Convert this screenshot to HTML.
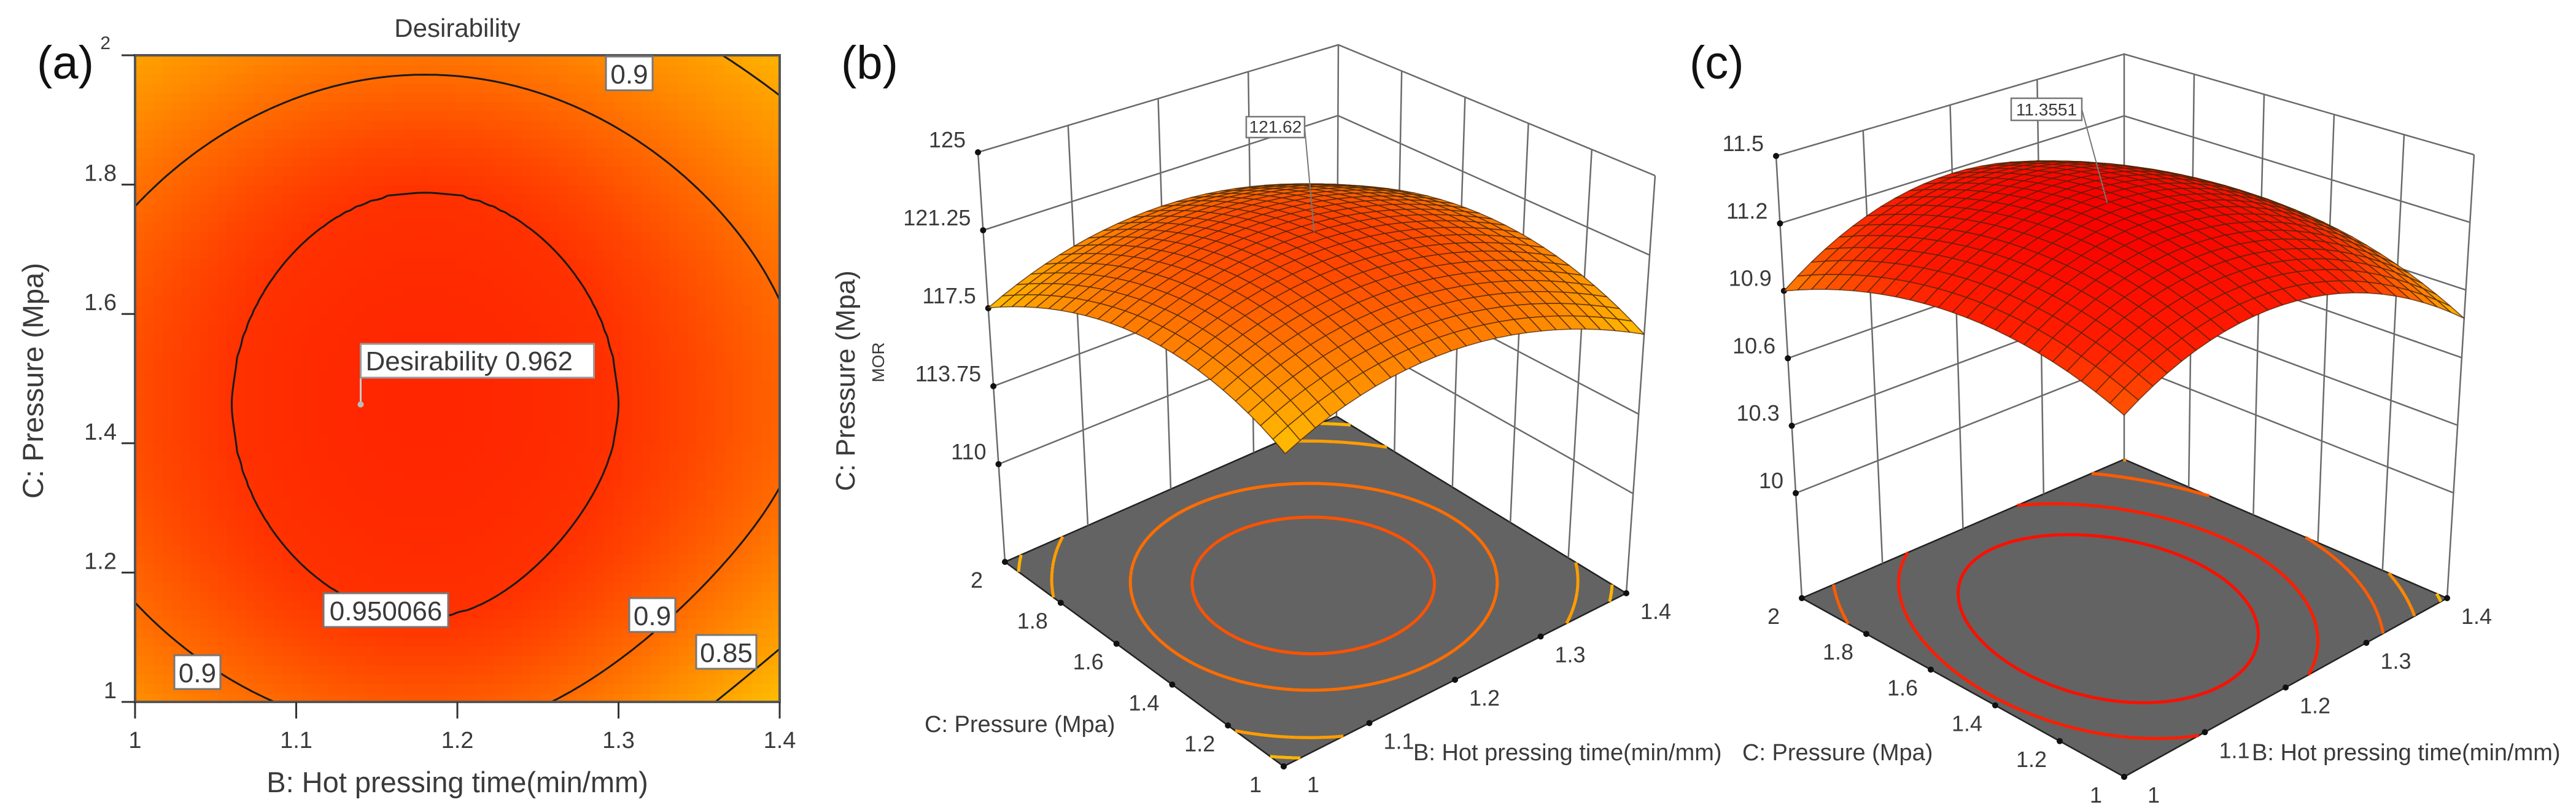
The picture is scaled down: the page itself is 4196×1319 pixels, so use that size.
<!DOCTYPE html>
<html><head><meta charset="utf-8"><title>Desirability and response surfaces</title>
<style>
html,body{margin:0;padding:0;background:#fff;}
svg{display:block;font-family:"Liberation Sans",Arial,sans-serif;}
.t{fill:#3a3a3a;}
</style></head>
<body>
<svg id="fig" width="4196" height="1319" viewBox="0 0 4196 1319" xmlns="http://www.w3.org/2000/svg">
  <rect x="0" y="0" width="4196" height="1319" fill="#fff"/>
  <g id="pa"></g>
  <g id="pb"></g>
  <g id="pc"></g>
</svg>
<script>
// ---------- data ----------
const aXTicks = [1, 1.1, 1.2, 1.3, 1.4];
const aYTicks = [1, 1.2, 1.4, 1.6, 1.8, 2];
const aContourLevels = [0.950066, 0.9, 0.85];
const aOptimum = [1.14, 1.46];
const aOptimumValue = [0.962];
const aCenter = [1.18, 1.46];
const aInnerAxes = [0.12, 0.33];
const aOuterAxes = [0.235, 0.51];
const aPeak = [0.962];
const aCorner = [1.0, 3.0];   // all-corner drop, extra bottom-right drop

const bTicksZ = [110, 113.75, 117.5, 121.25, 125];
const bTicksB = [1, 1.1, 1.2, 1.3, 1.4];
const bTicksC = [1, 1.2, 1.4, 1.6, 1.8, 2];
const bModel = [121.62, 8.2, 8.2, 0, 0.5, 0.5];
const bPeakLabel = ["121.62"];
const bContours = [121, 120.2, 118.7, 117.9];

const cTicksZ = [10, 10.3, 10.6, 10.9, 11.2, 11.5];
const cTicksB = [1, 1.1, 1.2, 1.3, 1.4];
const cTicksC = [1, 1.2, 1.4, 1.6, 1.8, 2];
const cModel = [11.3551, 1.14, 0.70, -0.222, 0.45, 0.5];
const cPeakLabel = ["11.3551"];
const cContours = [11.25, 11.15, 11.0, 10.9, 10.8];

// ---------- helpers ----------
const NS = "http://www.w3.org/2000/svg";
function mk(parent, tag, attrs, text) {
  const el = document.createElementNS(NS, tag);
  for (const k in attrs) el.setAttribute(k, attrs[k]);
  if (text !== undefined) el.textContent = text;
  parent.appendChild(el);
  return el;
}
function mix(c1, c2, t) { return c1.map((v, i) => Math.round(v + (c2[i] - v) * t)); }
function ramp(stops, t) {
  t = Math.max(0, Math.min(1, t));
  for (let i = 0; i < stops.length - 1; i++) {
    if (t <= stops[i + 1][0]) {
      const s = (t - stops[i][0]) / (stops[i + 1][0] - stops[i][0]);
      const c = mix(stops[i][1], stops[i + 1][1], s);
      return "rgb(" + c.join(",") + ")";
    }
  }
  const c = stops[stops.length - 1][1];
  return "rgb(" + c.join(",") + ")";
}
function contour(f, n, level) {
  const g = [];
  for (let i = 0; i <= n; i++) { g.push([]); for (let j = 0; j <= n; j++) g[i].push(f(i / n, j / n)); }
  const segs = [];
  for (let i = 0; i < n; i++) for (let j = 0; j < n; j++) {
    const c = [[i, j], [i + 1, j], [i + 1, j + 1], [i, j + 1]];
    const pts = [];
    for (let k = 0; k < 4; k++) {
      const a = c[k], b = c[(k + 1) % 4];
      const fa = g[a[0]][a[1]] - level, fb = g[b[0]][b[1]] - level;
      if ((fa < 0) !== (fb < 0)) {
        const t = fa / (fa - fb);
        pts.push([(a[0] + (b[0] - a[0]) * t) / n, (a[1] + (b[1] - a[1]) * t) / n]);
      }
    }
    if (pts.length === 2) segs.push([pts[0], pts[1]]);
    if (pts.length === 4) { segs.push([pts[0], pts[1]]); segs.push([pts[2], pts[3]]); }
  }
  return segs;
}

// ================= PANEL A =================
(function () {
  const g = document.getElementById("pa");
  const X0 = 220, X1 = 1270, Y0 = 1143, Y1 = 90;
  const xs = B => X0 + (B - 1) / 0.4 * (X1 - X0);
  const ys = C => Y0 - (C - 1) / 1 * (Y0 - Y1);
  const d1 = aPeak[0] - aContourLevels[0], d2 = aPeak[0] - aContourLevels[1];
  const axes = dl => {
    if (dl < d1) { const s = Math.sqrt(dl / d1); return [aInnerAxes[0] * s, aInnerAxes[1] * s]; }
    const t = (dl - d1) / (d2 - d1);
    return [aInnerAxes[0] + (aOuterAxes[0] - aInnerAxes[0]) * t, aInnerAxes[1] + (aOuterAxes[1] - aInnerAxes[1]) * t];
  };
  const D = (B, C) => {
    const dB = B - aCenter[0], dC = C - aCenter[1];
    let lo = 1e-6, hi = 0.6;
    for (let k = 0; k < 30; k++) {
      const m = (lo + hi) / 2, a = axes(m);
      const q = (dB / a[0]) ** 2 + (dC / a[1]) ** 2;
      if (q > 1) lo = m; else hi = m;
    }
    return aPeak[0] - (lo + hi) / 2
      - aCorner[0] * dB * dB * dC * dC
      - aCorner[1] * Math.max(0, dB) ** 2 * Math.max(0, -dC) ** 2;
  };
  const stops = [[0, [255, 214, 0]], [0.45, [255, 140, 0]], [0.8, [255, 70, 0]], [1, [255, 38, 0]]];
  const heat = mk(g, "g", {"shape-rendering": "crispEdges"});
  
  
  const N = 70;
  for (let i = 0; i < N; i++) for (let j = 0; j < N; j++) {
    const B = 1 + (i + 0.5) / N * 0.4, C = 1 + (j + 0.5) / N;
    const t = (D(B, C) - 0.80) / (0.962 - 0.80);
    const x = xs(1 + i / N * 0.4), y = ys(1 + (j + 1) / N);
    const r = mk(heat, "rect", {x: x.toFixed(1), y: y.toFixed(1), width: ((X1 - X0) / N + 1).toFixed(1), height: ((Y0 - Y1) / N + 1).toFixed(1), fill: ramp(stops, t)});
    
    
  }
  aContourLevels.forEach(lv => {
    const segs = contour((u, v) => D(1 + u * 0.4, 1 + v), 120, lv);
    let d = "";
    segs.forEach(s => { d += "M" + xs(1 + s[0][0] * 0.4).toFixed(1) + " " + ys(1 + s[0][1]).toFixed(1) + "L" + xs(1 + s[1][0] * 0.4).toFixed(1) + " " + ys(1 + s[1][1]).toFixed(1); });
    const p = mk(g, "path", {d: d, stroke: "#1a1a1a", "stroke-width": 3, fill: "none"});
    
    
  });
  const fr = mk(g, "rect", {x: X0, y: Y1, width: X1 - X0, height: Y0 - Y1, fill: "none", stroke: "#555", "stroke-width": 4});
  
  
  aXTicks.forEach(v => {
    const tk = mk(g, "line", {x1: xs(v), x2: xs(v), y1: Y0, y2: Y0 + 27, stroke: "#333", "stroke-width": 3});
    
    
    const tl = mk(g, "text", {x: xs(v), y: Y0 + 75, "text-anchor": "middle", "font-size": 38, class: "t"}, String(v));
    
    
  });
  aYTicks.forEach(v => {
    const tk = mk(g, "line", {x1: X0 - 22, x2: X0, y1: ys(v), y2: ys(v), stroke: "#333", "stroke-width": 3});
    
    
    const yy = v === 2 ? ys(v) - 10 : ys(v) - 6;
    const tl = mk(g, "text", {x: v === 2 ? 180 : 190, y: yy, "text-anchor": "end", "font-size": v === 2 ? 30 : 38, class: "t"}, String(v));
    
    
  });
  const ox = xs(aOptimum[0]), oy = ys(aOptimum[1]);
  const ln = mk(g, "line", {x1: ox, x2: ox, y1: 612, y2: oy, stroke: "#ccc", "stroke-width": 3});
  
  
  const dt = mk(g, "circle", {cx: ox, cy: oy, r: 5, fill: "#bbb"});
  
  
  const bx = mk(g, "rect", {x: ox, y: 560, width: 380, height: 55, fill: "#fff", stroke: "#999", "stroke-width": 3});
  
  
  const bt = mk(g, "text", {x: ox + 8, y: 603, "font-size": 44, class: "t"}, "Desirability  " + aOptimumValue[0]);
  
  
  const labs = [["0.950066", 527, 966, 203], ["0.9", 987, 92, 76], ["0.9", 1025, 974, 75], ["0.85", 1134, 1034, 98], ["0.9", 284, 1067, 75]];
  labs.forEach(L => {
    const r = mk(g, "rect", {x: L[1], y: L[2], width: L[3], height: 55, fill: "#fff", stroke: "#777", "stroke-width": 3});
    
    
    const t = mk(g, "text", {x: L[1] + L[3] / 2, y: L[2] + 44, "text-anchor": "middle", "font-size": 44, class: "t"}, L[0]);
    
    
  });
  const ti = mk(g, "text", {x: 745, y: 60, "text-anchor": "middle", "font-size": 42, class: "t"}, "Desirability");
  
  
  const xt = mk(g, "text", {x: 745, y: 1290, "text-anchor": "middle", "font-size": 47, class: "t"}, "B: Hot pressing time(min/mm)");
  
  
  const yt = mk(g, "text", {x: 0, y: 0, "text-anchor": "middle", "font-size": 47, class: "t", transform: "translate(70,620) rotate(-90)"}, "C: Pressure (Mpa)");
  
  
  const pl = mk(g, "text", {x: 60, y: 128, "font-size": 76, fill: "#111"}, "(a)");
  
  
})();

// ================= 3D PANELS =================
function bil(c, u, v) {
  return [0, 1].map(k => c.F[k] * (1 - u) * (1 - v) + c.R[k] * u * (1 - v) + c.L[k] * (1 - u) * v + c.K[k] * u * v);
}
function draw3d(gid, box, zTicks, bTicks, cTicks, model, contours, peakLabel, stops, trange, labelBox, panelLabel, extra) {
  const g = document.getElementById(gid);
  const zf = box.zf, zt = box.zt;
  const P = (u, v, z) => {
    const w = (z - zf) / (zt - zf);
    const a = bil(box.bot, u, v), b = bil(box.top, u, v);
    return [a[0] * (1 - w) + b[0] * w, a[1] * (1 - w) + b[1] * w];
  };
  const f = (u, v) => {
    const du = u - model[4], dv = v - model[5];
    return model[0] - model[1] * du * du - model[2] * dv * dv - model[3] * du * dv;
  };
  const pt = p => p[0].toFixed(1) + " " + p[1].toFixed(1);
  const wallStroke = {stroke: "#6a6a6a", "stroke-width": 2.5, fill: "none"};
  const fl = mk(g, "path", {d: "M" + pt(P(0, 0, zf)) + "L" + pt(P(1, 0, zf)) + "L" + pt(P(1, 1, zf)) + "L" + pt(P(0, 1, zf)) + "Z", fill: "#636363", stroke: "#222", "stroke-width": 2.5});
  
  
  contours.forEach(lv => {
    const segs = contour(f, 90, lv);
    let d = "";
    segs.forEach(s => { d += "M" + pt(P(s[0][0], s[0][1], zf)) + "L" + pt(P(s[1][0], s[1][1], zf)); });
    const t = (lv - trange[0]) / (trange[1] - trange[0]);
    const p = mk(g, "path", {d: d, stroke: ramp(stops, t), "stroke-width": 5, fill: "none"});
    
    
  });
  let d = "";
  const bn = bTicks.map(b => (b - bTicks[0]) / (bTicks[bTicks.length - 1] - bTicks[0]));
  const cn = cTicks.map(c => (c - cTicks[0]) / (cTicks[cTicks.length - 1] - cTicks[0]));
  bn.forEach(u => { d += "M" + pt(P(u, 1, zf)) + "L" + pt(P(u, 1, zt)); });
  cn.forEach(v => { d += "M" + pt(P(1, v, zf)) + "L" + pt(P(1, v, zt)); });
  zTicks.concat([zt]).forEach(z => { d += "M" + pt(P(0, 1, z)) + "L" + pt(P(1, 1, z)) + "L" + pt(P(1, 0, z)); });
  const wl = mk(g, "path", Object.assign({d: d}, wallStroke));
  
  
  zTicks.forEach(z => {
    const p = P(0, 1, z);
    const c = mk(g, "circle", {cx: p[0], cy: p[1], r: 5, fill: "#111"});
    
    
    const t = mk(g, "text", {x: p[0] - 20, y: p[1] - 8, "text-anchor": "end", "font-size": 36, class: "t"}, String(z));
    
    
  });
  cTicks.forEach((c, i) => {
    const p = P(0, cn[i], zf);
    const dt = mk(g, "circle", {cx: p[0], cy: p[1], r: 5, fill: "#111"});
    
    
    const t = mk(g, "text", {x: p[0] - 46, y: p[1] + 42, "text-anchor": "middle", "font-size": 36, class: "t"}, String(c));
    
    
  });
  bTicks.forEach((b, i) => {
    const p = P(bn[i], 0, zf);
    const dt = mk(g, "circle", {cx: p[0], cy: p[1], r: 5, fill: "#111"});
    
    
    const t = mk(g, "text", {x: p[0] + 48, y: p[1] + 42, "text-anchor": "middle", "font-size": 36, class: "t"}, String(b));
    
    
  });
  const N = 24, cells = [];
  for (let i = 0; i < N; i++) for (let j = 0; j < N; j++) cells.push([i, j]);
  cells.sort((a, b) => (b[0] + b[1]) - (a[0] + a[1]));
  const sg = mk(g, "g", {});
  
  
  cells.forEach(c => {
    const u0 = c[0] / N, u1 = (c[0] + 1) / N, v0 = c[1] / N, v1 = (c[1] + 1) / N;
    const z = f((u0 + u1) / 2, (v0 + v1) / 2);
    const t = (z - trange[0]) / (trange[1] - trange[0]);
    const poly = mk(sg, "path", {d: "M" + pt(P(u0, v0, f(u0, v0))) + "L" + pt(P(u1, v0, f(u1, v0))) + "L" + pt(P(u1, v1, f(u1, v1))) + "L" + pt(P(u0, v1, f(u0, v1))) + "Z", fill: ramp(stops, t), stroke: "#4a2408", "stroke-width": 1.6, "stroke-opacity": 0.75, "stroke-linejoin": "round"});
    
    
  });
  const pk = P(model[4], model[5], model[0]);
  const lb = labelBox;
  const pl = mk(g, "line", {x1: lb[0] + lb[2], x2: pk[0], y1: lb[1] + lb[3] / 2, y2: pk[1], stroke: "#777", "stroke-width": 2});
  
  
  const rb = mk(g, "rect", {x: lb[0], y: lb[1], width: lb[2], height: lb[3], fill: "#fff", stroke: "#777", "stroke-width": 2.5});
  
  
  const rt = mk(g, "text", {x: lb[0] + lb[2] / 2, y: lb[1] + lb[3] - 8, "text-anchor": "middle", "font-size": 28, class: "t"}, peakLabel[0]);
  
  
  const pn = mk(g, "text", {x: panelLabel[1], y: panelLabel[2], "font-size": 76, fill: "#111"}, panelLabel[0]);
  
  
  extra(g);
}

draw3d("pb",
  {bot: {F: [2091, 1248], R: [2649, 966], L: [1637, 915], K: [2177, 678]},
   top: {F: [2095, 427], R: [2696, 286], L: [1593, 248], K: [2180, 73]}, zf: 105.3, zt: 125},
  bTicksZ, bTicksB, bTicksC, bModel, bContours, bPeakLabel,
  [[0, [255, 200, 0]], [0.45, [255, 140, 0]], [1, [255, 62, 0]]], [117.3, 121.62],
  [2030, 190, 95, 34], ["(b)", 1370, 128],
  function (g) {
    const a = mk(g, "text", {x: 0, y: 0, "text-anchor": "middle", "font-size": 44, class: "t", transform: "translate(1392,620) rotate(-90)"}, "C: Pressure (Mpa)");
    
    
    const m = mk(g, "text", {x: 0, y: 0, "text-anchor": "middle", "font-size": 28, class: "t", transform: "translate(1440,590) rotate(-90)"}, "MOR");
    
    
    const c = mk(g, "text", {x: 1506, y: 1192, "font-size": 38, class: "t"}, "C: Pressure (Mpa)");
    
    
    const b = mk(g, "text", {x: 2302, y: 1238, "font-size": 38, class: "t"}, "B: Hot pressing time(min/mm)");
    
    
  });

draw3d("pc",
  {bot: {F: [3460, 1265], R: [3986, 974], L: [2935, 974], K: [3460, 748]},
   top: {F: [3460, 475], R: [4030, 252], L: [2893, 254], K: [3460, 88]}, zf: 9.533, zt: 11.5},
  cTicksZ, cTicksB, cTicksC, cModel, cContours, cPeakLabel,
  [[0, [255, 205, 0]], [0.3, [255, 120, 0]], [0.65, [255, 30, 0]], [1, [248, 0, 0]]], [10.75, 11.3551],
  [3276, 160, 115, 36], ["(c)", 2752, 128],
  function (g) {
    const c = mk(g, "text", {x: 2838, y: 1238, "font-size": 38, class: "t"}, "C: Pressure (Mpa)");
    
    
    const b = mk(g, "text", {x: 3668, y: 1238, "font-size": 38, class: "t"}, "B: Hot pressing time(min/mm)");
    
    
  });
</script>
</body></html>
